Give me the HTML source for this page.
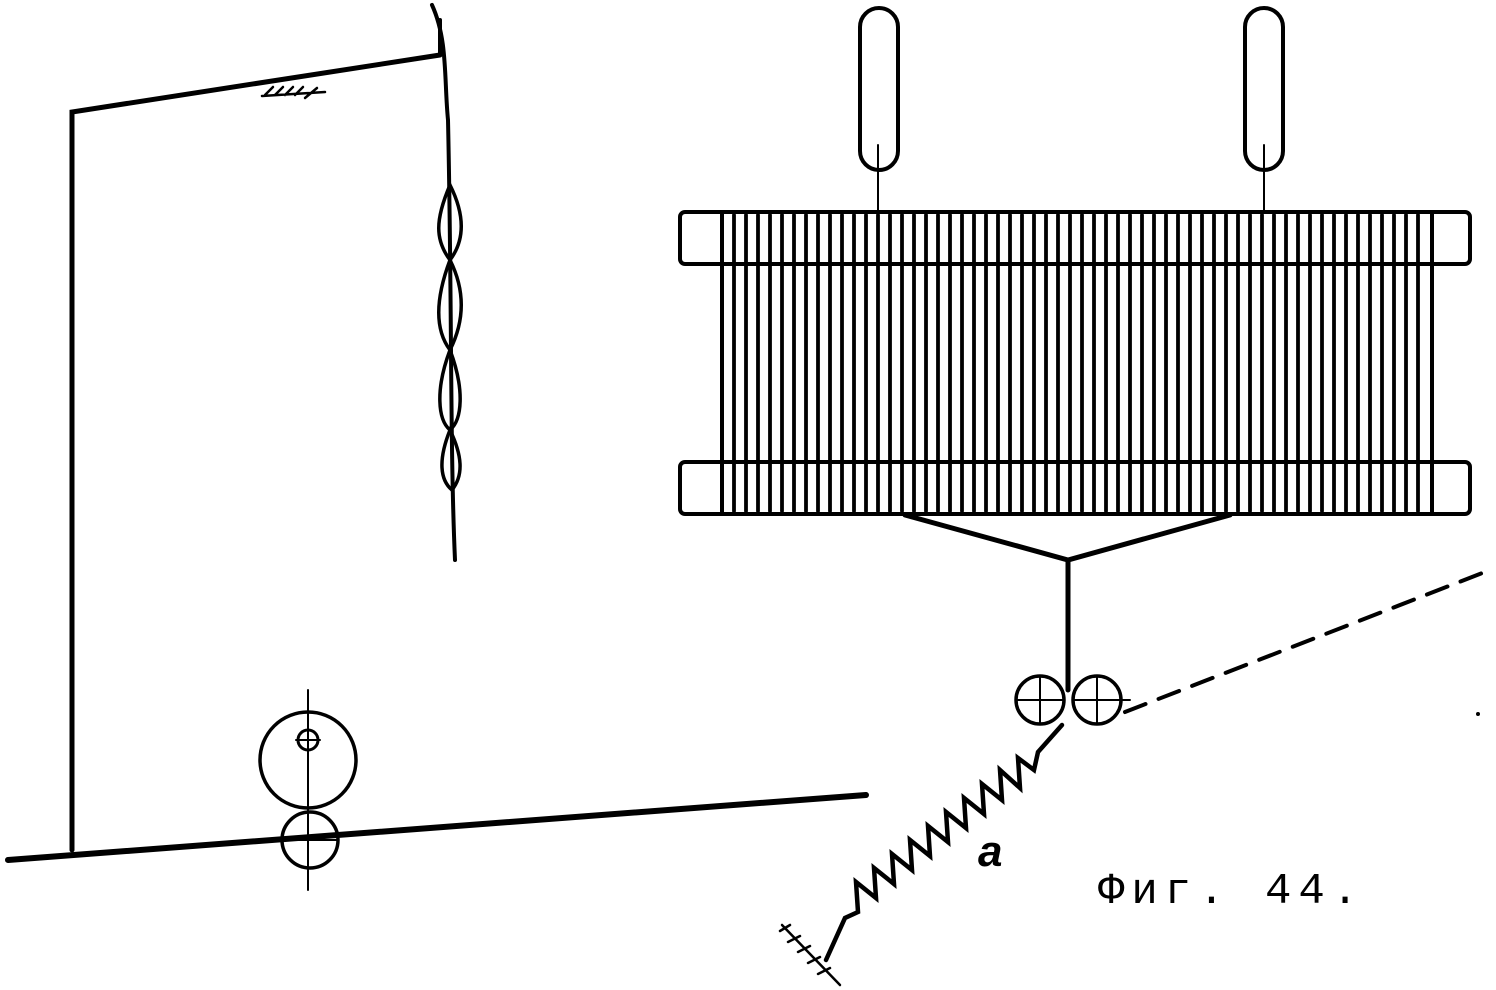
<!DOCTYPE html>
<html><head><meta charset="utf-8"><style>html,body{margin:0;padding:0;background:#fff}svg{display:block}</style></head><body>
<svg width="1496" height="990" viewBox="0 0 1496 990" xmlns="http://www.w3.org/2000/svg" fill="none" stroke="#000" stroke-linecap="round">
<path d="M72 850 L72 112 L440 55" stroke-width="5"/>
<path d="M440 55 L440 20" stroke-width="4"/>
<path d="M432 5 C448 40,444 80,448 120 C452 300,450 450,455 560" stroke-width="4"/>
<path d="M265 95 l8 -8 M275 95 l8 -8 M285 95 l8 -8 M295 95 l8 -8 M305 98 l12 -10 M262 96 L325 92" stroke-width="2.5"/>
<path d="M450 185 C435 220,435 240,450 260 C465 240,465 215,450 185Z M450 260 C435 300,435 330,450 350 C465 320,465 290,450 260Z M450 350 C435 390,438 420,450 430 C462 420,465 390,450 350Z M450 430 C438 460,440 480,452 490 C464 475,462 455,450 430Z" stroke-width="3.5"/>
<path d="M8 860 L866 795" stroke-width="6"/>
<circle cx="308" cy="760" r="48" stroke-width="3.5"/>
<circle cx="310" cy="840" r="28" stroke-width="3.5"/>
<circle cx="308" cy="740" r="10" stroke-width="3"/>
<path d="M308 690 L308 890 M282 840 L338 840 M296 740 L320 740" stroke-width="2"/>
<rect x="860" y="8" width="38" height="162" rx="19" stroke-width="4"/>
<rect x="1245" y="8" width="38" height="162" rx="19" stroke-width="4"/>
<path d="M878 145 L878 212 M1264 145 L1264 212" stroke-width="2"/>
<rect x="680" y="212" width="790" height="52" rx="5" stroke-width="4"/>
<rect x="680" y="462" width="790" height="52" rx="5" stroke-width="4"/>
<rect x="722" y="212" width="710" height="302" fill="#fff" stroke-width="4"/>
<g stroke-width="3.8">
<path d="M734 215 V511 M746 215 V511 M758 215 V511 M770 215 V511 M782 215 V511 M794 215 V511 M806 215 V511 M818 215 V511 M830 215 V511 M842 215 V511 M854 215 V511 M866 215 V511 M878 215 V511 M890 215 V511 M902 215 V511 M914 215 V511 M926 215 V511 M938 215 V511 M950 215 V511 M962 215 V511 M974 215 V511 M986 215 V511 M998 215 V511 M1010 215 V511 M1022 215 V511 M1034 215 V511 M1046 215 V511 M1058 215 V511 M1070 215 V511 M1082 215 V511 M1094 215 V511 M1106 215 V511 M1118 215 V511 M1130 215 V511 M1142 215 V511 M1154 215 V511 M1166 215 V511 M1178 215 V511 M1190 215 V511 M1202 215 V511 M1214 215 V511 M1226 215 V511 M1238 215 V511 M1250 215 V511 M1262 215 V511 M1274 215 V511 M1286 215 V511 M1298 215 V511 M1310 215 V511 M1322 215 V511 M1334 215 V511 M1346 215 V511 M1358 215 V511 M1370 215 V511 M1382 215 V511 M1394 215 V511 M1406 215 V511 M1418 215 V511"/>
</g>
<path d="M722 264 H1432 M722 462 H1432" stroke-width="4"/>
<path d="M905 515 L1068 560 L1230 515 M1068 560 L1068 690" stroke-width="5"/>
<circle cx="1040" cy="700" r="24" stroke-width="3.5"/>
<circle cx="1097" cy="700" r="24" stroke-width="3.5"/>
<path d="M1040 676 V724 M1016 700 H1064 M1097 676 V724 M1073 700 H1130" stroke-width="2"/>
<path d="M1125 712 L1490 570" stroke-width="4" stroke-dasharray="22 14"/>
<circle cx="1478" cy="714" r="1.5" fill="#000"/>
<path d="M1062 725 L1038 752 L1034 770 L1018 758 L1020 788 L1000 770 L1002 800 L982 784 L984 814 L964 798 L966 828 L946 812 L948 842 L928 826 L930 856 L910 840 L912 870 L892 854 L894 884 L874 868 L876 898 L856 882 L858 912 L845 918 L826 960" stroke-width="4.5" stroke-linejoin="miter"/>
<path d="M782 925 L840 985 M790 925 l-10 6 M800 936 l-12 6 M810 946 l-12 6 M820 957 l-12 6 M830 968 l-12 6" stroke-width="2.5"/>
<text x="978" y="866" font-family="Liberation Sans, sans-serif" font-style="italic" font-weight="bold" font-size="44" fill="#000" stroke="none">a</text>
<text x="1098" y="903" font-family="Liberation Mono, monospace" font-size="44" letter-spacing="7" fill="#000" stroke="none">Фиг. 44.</text>
</svg>
</body></html>
